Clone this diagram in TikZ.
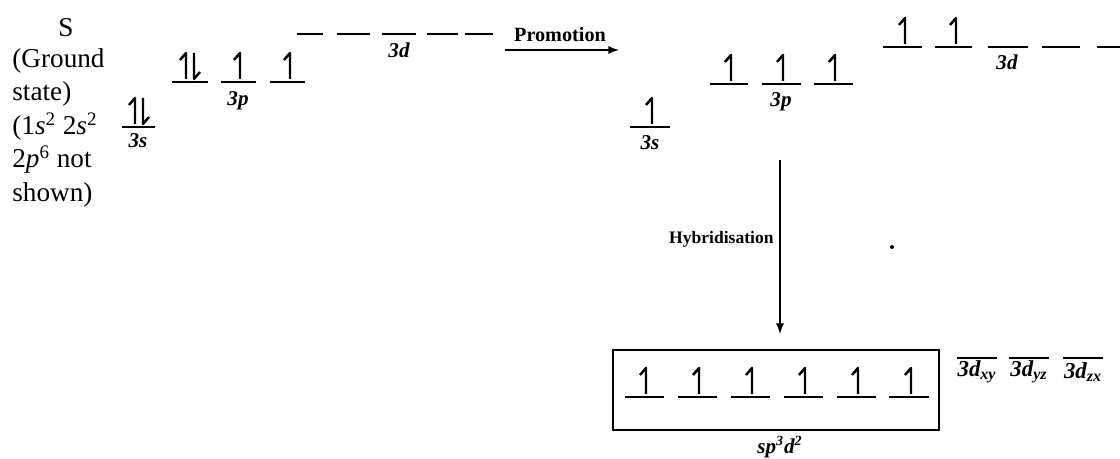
\documentclass[tikz,border=0pt]{standalone}
\usepackage{fontspec}
\setmainfont{Liberation Serif}
\usepackage{tikz}
\usetikzlibrary{arrows,calc}
\tikzset{orb/.style={line width=1.1pt},
  elec/.style={line width=1.4pt,line join=round},
  conn/.style={line width=1.1pt,-latex},
  olab/.style={font=\fontsize{12}{14}\selectfont\bfseries\itshape,inner sep=0pt}}
\def\orb#1#2#3{\draw[orb] (#1,#3)--(#2,#3);}
\def\eup#1#2{\draw[elec] (#1,#2-3)--(#1,#2-29)--(#1-6,#2-22);}
\def\edn#1#2{\draw[elec] (#1,#2-29)--(#1,#2-3)--(#1+6,#2-10);}

\begin{document}
\begin{tikzpicture}[x=0.02cm,y=-0.02cm]
  \useasboundingbox (0,0) rectangle (1120,459);
  % ground state text
  \node[font=\fontsize{15.5}{19.1}\selectfont] (s) at (66,28){S};
  \node[font=\fontsize{15.5}{19.1}\selectfont,align=left,anchor=north west,inner sep=0pt] (gs) at (12,48)
    {(Ground\\state)\\(1\textit{s}\textsuperscript{2} 2\textit{s}\textsuperscript{2}\\2\textit{p}\textsuperscript{6} not\\shown)};
  % ground state 3s
  \orb{122}{155}{127}
  \eup{135}{127} \edn{143}{127}
  \node[olab] (gs3s) at (138,141){3s};
  % ground state 3p
  \orb{172}{208}{82} \orb{221}{256}{82} \orb{270}{305}{82}
  \eup{186}{82} \edn{194}{82}
  \eup{240}{82}
  \eup{290}{82}
  \node[olab] (gs3p) at (238,101){3p};
  % ground state 3d (empty)
  \orb{297}{323}{34} \orb{337}{370}{34} \orb{382}{416}{34} \orb{427}{458}{34} \orb{465}{493}{34}
  \node[olab] (gs3d) at (399,50){3d};
  % promotion
  \node[font=\fontsize{11.5}{13}\selectfont\bfseries,inner sep=0pt] (prom) at (560,35){Promotion};
  \coordinate (pa) at (505,50);
  \coordinate (pb) at (619,50);
  \draw[conn] (pa)--(pb);
  % excited state 3s
  \orb{630}{670}{127}
  \eup{652}{127}
  \node[olab] (ex3s) at (650,143){3s};
  % excited state 3p
  \orb{710}{748}{84} \orb{762}{801}{84} \orb{814}{853}{84}
  \eup{731}{84} \eup{783}{84} \eup{835}{84}
  \node[olab] (ex3p) at (781,102){3p};
  % excited state 3d
  \orb{883}{922}{47} \orb{935}{972}{47} \orb{988}{1028}{47} \orb{1042}{1080}{47} \orb{1097}{1125}{47}
  \eup{905}{47} \eup{956}{47}
  \node[olab] (ex3d) at (1007,62){3d};
  % hybridisation
  \coordinate (ha) at (780,160);
  \coordinate (hb) at (780,334);
  \draw[conn] (ha)--(hb);
  \node[font=\fontsize{10}{12}\selectfont\bfseries,anchor=east,inner sep=0pt] (hyb) at (774,239){Hybridisation};
  \fill (892,247) circle (2);
  % sp3d2 box
  \draw[line width=1.1pt] (613,350) rectangle (939,430);
  \orb{625}{664}{397} \orb{678}{717}{397} \orb{731}{770}{397}
  \orb{784}{823}{397} \orb{837}{876}{397} \orb{889}{929}{397}
  \eup{646}{397} \eup{699}{397} \eup{752}{397}
  \eup{805}{397} \eup{858}{397} \eup{911}{397}
  \node[olab] (hyb3) at (780,447){sp\textsuperscript{3}d\textsuperscript{2}};
  % unused 3d
  \orb{957}{997}{358} \orb{1009}{1049}{358} \orb{1063}{1103}{358}
  \node[olab,font=\fontsize{13}{15}\selectfont\bfseries\itshape] (dxy) at (977,372){3d\textsubscript{xy}};
  \node[olab,font=\fontsize{13}{15}\selectfont\bfseries\itshape] (dyz) at (1029,372){3d\textsubscript{yz}};
  \node[olab,font=\fontsize{13}{15}\selectfont\bfseries\itshape] (dzx) at (1083,372){3d\textsubscript{zx}};
\end{tikzpicture}
\end{document}
